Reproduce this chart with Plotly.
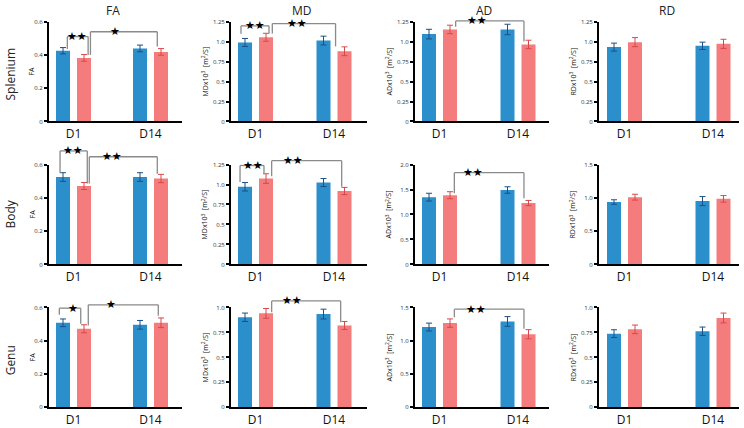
import plotly.graph_objects as go

W, H = 744, 428

CATEGORIES = ["D1", "D14"]
ROW_NAMES = ["Splenium", "Body", "Genu"]
METRICS = ["FA", "MD", "AD", "RD"]
Y_TITLES = ["FA",
            "MDx10<sup>3</sup>  [m<sup>2</sup>/S]",
            "ADx10<sup>3</sup>  [m<sup>2</sup>/S]",
            "RDx10<sup>3</sup>  [m<sup>2</sup>/S]"]

# rows: Splenium, Body, Genu ; each [D1, D14]
FA_BLUE = [[0.425, 0.439], [0.525, 0.525], [0.508, 0.496]]
FA_BLUE_ERR = [[0.019, 0.020], [0.026, 0.026], [0.023, 0.026]]
FA_RED = [[0.382, 0.418], [0.471, 0.516], [0.472, 0.508]]
FA_RED_ERR = [[0.020, 0.020], [0.021, 0.025], [0.024, 0.029]]

MD_BLUE = [[0.989, 1.013], [0.972, 1.025], [0.902, 0.934]]
MD_BLUE_ERR = [[0.050, 0.055], [0.053, 0.050], [0.042, 0.049]]
MD_RED = [[1.054, 0.879], [1.075, 0.919], [0.941, 0.820]]
MD_RED_ERR = [[0.050, 0.055], [0.060, 0.045], [0.049, 0.040]]

AD_BLUE = [[1.094, 1.152], [1.347, 1.490], [1.206, 1.290]]
AD_BLUE_ERR = [[0.060, 0.065], [0.078, 0.065], [0.059, 0.073]]
AD_RED = [[1.152, 0.964], [1.386, 1.229], [1.265, 1.098]]
AD_RED_ERR = [[0.053, 0.053], [0.070, 0.052], [0.063, 0.069]]

RD_BLUE = [[0.931, 0.947], [0.937, 0.951], [0.738, 0.762]]
RD_BLUE_ERR = [[0.050, 0.046], [0.034, 0.068], [0.039, 0.042]]
RD_RED = [[0.993, 0.972], [1.010, 0.985], [0.781, 0.895]]
RD_RED_ERR = [[0.057, 0.057], [0.044, 0.049], [0.043, 0.049]]

FA_TICKS = [["0", "0.2", "0.4", "0.6"],
            ["0", "0.2", "0.4", "0.6"],
            ["0", "0.2", "0.4", "0.6"]]
MD_TICKS = [["0", "0.25", "0.5", "0.75", "1.0", "1.25"],
            ["0", "0.25", "0.5", "0.75", "1.0", "1.25"],
            ["0", "0.25", "0.5", "0.75", "1.0"]]
AD_TICKS = [["0", "0.25", "0.5", "0.75", "1.0", "1.25"],
            ["0", "0.5", "1.0", "1.5", "2.0"],
            ["0", "0.5", "1.0", "1.5"]]
RD_TICKS = [["0", "0.25", "0.5", "0.75", "1.0", "1.25"],
            ["0", "0.5", "1.0", "1.5"],
            ["0", "0.25", "0.5", "0.75", "1.0"]]

# significance brackets: row, col, x left, x right, left leg end, right leg end, top, star x, label
BRACKETS = [
    (0, 0, -0.08, 0.19, 0.435, 0.400, 0.510, 0.045, "★★"),
    (0, 0, 0.22, 1.088, 0.400, 0.451, 0.539, 0.539, "★"),
    (0, 1, -0.185, 0.172, 1.097, 1.100, 1.197, -0.006, "★★"),
    (0, 1, 0.214, 1.02, 1.100, 0.940, 1.225, 0.532, "★★"),
    (0, 2, 0.206, 1.076, 1.185, 1.001, 1.259, 0.482, "★★"),
    (1, 0, -0.175, 0.179, 0.551, 0.486, 0.682, -0.01, "★★"),
    (1, 0, 0.205, 1.088, 0.486, 0.545, 0.647, 0.496, "★★"),
    (1, 1, -0.197, 0.108, 1.033, 1.136, 1.238, -0.028, "★★"),
    (1, 1, 0.206, 1.098, 1.103, 0.972, 1.299, 0.482, "★★"),
    (1, 2, 0.189, 1.076, 1.425, 1.327, 1.837, 0.431, "★★"),
    (2, 0, -0.184, 0.094, 0.557, 0.502, 0.596, -0.01, "★"),
    (2, 0, 0.192, 1.101, 0.492, 0.551, 0.616, 0.487, "★"),
    (2, 1, 0.206, 1.085, 0.951, 0.853, 1.066, 0.461, "★★"),
    (2, 2, 0.189, 1.076, 1.353, 1.181, 1.475, 0.465, "★★"),
]

BLUE = "#2b8fcc"
RED = "#f47c7c"
BLUE_ERR_C = "#1d4f86"
RED_ERR_C = "#d94848"
LINE_C = "#8a8a8a"
FONT = "Open Sans"

SERIES = {
    "FA": (FA_BLUE, FA_BLUE_ERR, FA_RED, FA_RED_ERR, FA_TICKS),
    "MD": (MD_BLUE, MD_BLUE_ERR, MD_RED, MD_RED_ERR, MD_TICKS),
    "AD": (AD_BLUE, AD_BLUE_ERR, AD_RED, AD_RED_ERR, AD_TICKS),
    "RD": (RD_BLUE, RD_BLUE_ERR, RD_RED, RD_RED_ERR, RD_TICKS),
}

# layout geometry in px: (axis left, axis right, px per category, D1 group center)
COL_PX = [(49, 182, 77.0, 73.5), (231, 367, 78.5, 255.5),
          (415, 549, 78.5, 439.5), (599, 739, 88.5, 624.5)]
ROW_PX = [(18, 120), (164, 266), (310, 412)]
COL_TITLE_X = [113, 302, 484, 667]
YTITLE_X = [32, 205, 389, 573]
ROW_LABEL_Y = [72, 215, 364]

fig = go.Figure()
layout = {}
shapes = []
annotations = []
top_vals = {}

for r in range(3):
    for c, metric in enumerate(METRICS):
        idx = r * 4 + c + 1
        sfx = "" if idx == 1 else str(idx)
        xa, ya = "x" + sfx, "y" + sfx
        blue, blue_err, red, red_err, ticks = SERIES[metric]
        x0, x1, S, c0 = COL_PX[c]
        t, b = ROW_PX[r]
        tick_labels = ticks[r]
        tick_vals = [float(v) for v in tick_labels]
        top = tick_vals[-1]
        top_vals[(r, c)] = top
        w = 14.0 / S
        xs = list(range(len(CATEGORIES)))
        fig.add_trace(go.Bar(
            x=xs, y=blue[r], width=w, offset=-17.5 / S,
            marker=dict(color=BLUE, line=dict(width=0)),
            error_y=dict(type="data", array=blue_err[r], color=BLUE_ERR_C,
                         thickness=1, width=3),
            xaxis=xa, yaxis=ya, showlegend=False))
        fig.add_trace(go.Bar(
            x=xs, y=red[r], width=w, offset=3.5 / S,
            marker=dict(color=RED, line=dict(width=0)),
            error_y=dict(type="data", array=red_err[r], color=RED_ERR_C,
                         thickness=1, width=3),
            xaxis=xa, yaxis=ya, showlegend=False))
        key = "" if idx == 1 else str(idx)
        layout["xaxis" + key] = dict(
            domain=[x0 / W, x1 / W], anchor=ya,
            range=[-(c0 - x0) / S, (x1 - c0) / S],
            tickvals=xs, ticktext=CATEGORIES, ticks="",
            showline=True, linecolor="black", linewidth=2,
            showgrid=False, zeroline=False,
            tickfont=dict(family=FONT, size=12, color="#111"),
            fixedrange=True)
        layout["yaxis" + key] = dict(
            domain=[1 - b / H, 1 - t / H], anchor=xa,
            range=[0, top], tickvals=tick_vals, ticktext=tick_labels,
            ticks="outside", ticklen=3, tickwidth=1.5, tickcolor="black",
            showline=True, linecolor="black", linewidth=2,
            showgrid=False, zeroline=False,
            tickfont=dict(family=FONT, size=6, color="#333"),
            fixedrange=True)
        annotations.append(dict(
            text=Y_TITLES[c], xref="paper", yref="paper",
            x=YTITLE_X[c] / W, y=1 - (t + b) / 2 / H, textangle=-90,
            showarrow=False, xanchor="center", yanchor="middle",
            font=dict(family=FONT, size=7, color="#111")))

for (r, c, xl, xr, yl, yr, ytop, sx, label) in BRACKETS:
    idx = r * 4 + c + 1
    sfx = "" if idx == 1 else str(idx)
    xa, yd = "x" + sfx, "y" + sfx + " domain"
    top = top_vals[(r, c)]
    line = dict(color=LINE_C, width=1.3)
    shapes.append(dict(type="line", xref=xa, yref=yd, x0=xl, x1=xl,
                       y0=yl / top, y1=ytop / top, line=line))
    shapes.append(dict(type="line", xref=xa, yref=yd, x0=xl, x1=xr,
                       y0=ytop / top, y1=ytop / top, line=line))
    shapes.append(dict(type="line", xref=xa, yref=yd, x0=xr, x1=xr,
                       y0=yr / top, y1=ytop / top, line=line))
    annotations.append(dict(
        text=label, xref=xa, yref=yd, x=sx, y=ytop / top,
        showarrow=False, xanchor="center", yanchor="middle",
        font=dict(family="DejaVu Sans", size=11, color="black")))

for c, metric in enumerate(METRICS):
    annotations.append(dict(
        text=metric, xref="paper", yref="paper", x=COL_TITLE_X[c] / W,
        y=1 - 7 / H, showarrow=False, xanchor="center", yanchor="middle",
        font=dict(family=FONT, size=12, color="#222")))

for r, name in enumerate(ROW_NAMES):
    annotations.append(dict(
        text=name, xref="paper", yref="paper", x=10 / W,
        y=1 - ROW_LABEL_Y[r] / H, textangle=-90, showarrow=False,
        xanchor="center", yanchor="middle",
        font=dict(family=FONT, size=12, color="#222")))

fig.update_layout(
    width=W, height=H, margin=dict(l=0, r=0, t=0, b=0),
    paper_bgcolor="white", plot_bgcolor="white",
    barmode="overlay", showlegend=False,
    shapes=shapes, annotations=annotations, **layout)

fig.write_html("out.html", config={"displayModeBar": False},
               post_script="document.body.style.margin='0';"
                           "document.body.style.padding='0';")
